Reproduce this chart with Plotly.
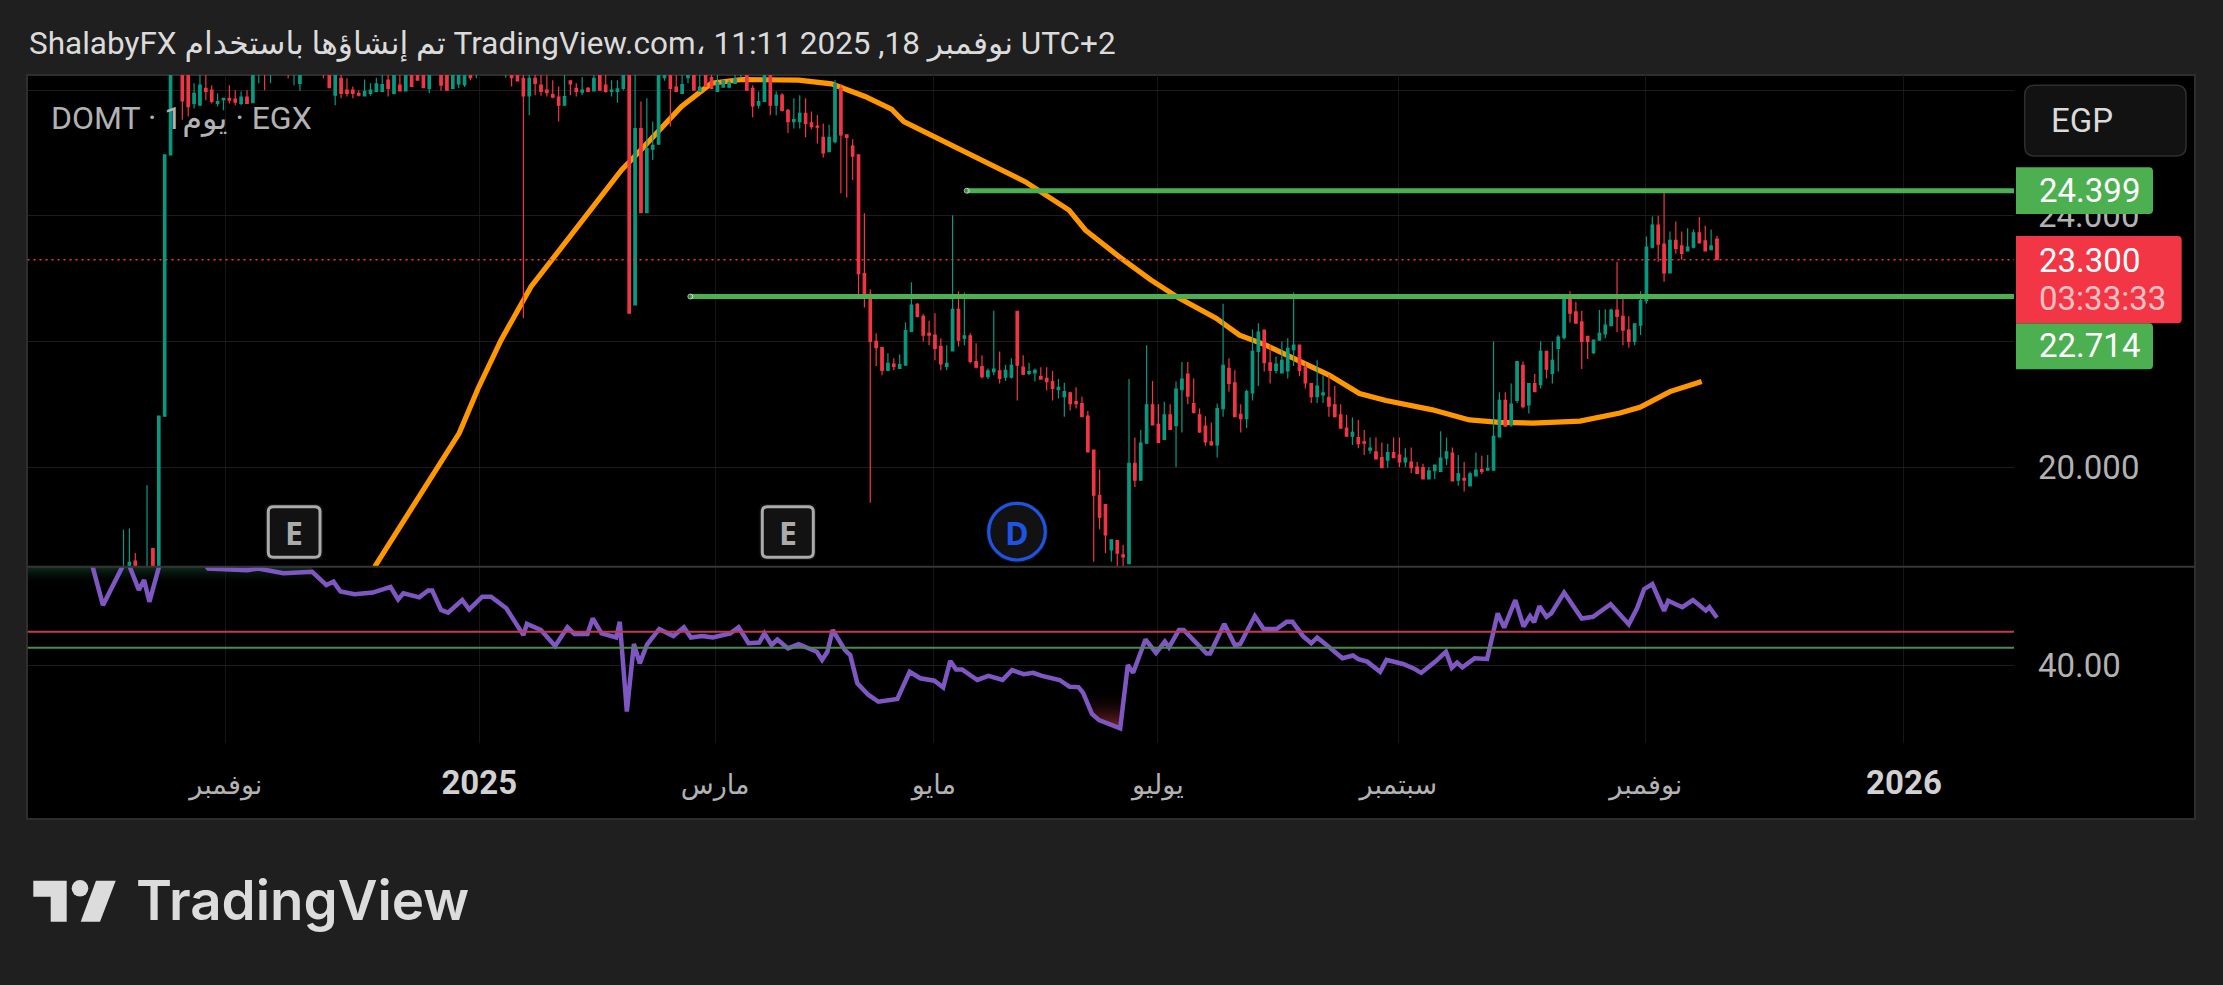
import plotly.graph_objects as go

W, H = 2223, 985

# daily candles DOMT, oldest first (last candle = bar 0)
bar_open = [
    18.2,18.3,18.5,18.3,18.25,18.7,18.35,20.81,24.97,26.5,
    26.8,26.3,25.79,25.76,26.03,26.0,25.79,25.85,25.87,25.86,
    25.79,25.89,25.8,26.3,26.35,26.3,26.4,26.45,26.4,26.25,
    26.11,26.4,26.5,26.6,26.5,26.4,25.92,26.19,26.0,26.0,
    25.95,25.91,25.95,25.98,25.98,26.16,25.95,26.08,25.99,26.3,
    26.3,26.3,26.03,26.3,26.3,26.3,26.03,26.1,26.09,26.4,
    26.25,26.5,26.6,26.7,26.6,26.3,26.4,26.3,26.19,25.91,
    26.19,26.08,26.0,25.93,25.89,25.76,26.15,26.03,25.97,26.03,
    25.99,26.3,
    26.08,25.98,25.98,26.03,26.4,22.58,25.39,24.05,25.06,25.14,
    26.2,26.4,26.05,25.95,26.2,26.4,25.98,26.4,26.2,25.98,
    26.05,26.05,26.11,26.25,26.4,26.03,25.76,25.82,26.4,25.76,
    25.92,25.68,25.5,25.5,25.63,25.48,25.43,25.25,25.02,25.18,
    26.03,25.29,25.11,24.97,23.08,22.75,22.0,21.9,21.54,21.64,
    21.57,21.62,22.16,22.59,22.4,22.13,22.1,21.92,21.6,21.85,
    22.51,22.05,22.09,21.68,21.6,21.44,21.52,21.53,21.43,21.43,
    22.48,21.59,21.49,21.5,21.44,21.41,21.36,21.23,21.12,21.18,
    21.04,21.01,20.81,20.27,19.55,19.4,18.68,18.83,
    18.6,18.46,20.06,19.79,20.38,20.99,20.68,20.44,20.83,20.66,
    21.23,21.48,21.01,20.83,20.65,20.4,20.35,20.93,21.57,21.34,
    20.84,20.77,21.18,21.84,22.18,21.66,21.54,21.5,21.53,21.87,
    21.94,21.59,21.33,21.12,21.15,21.11,20.99,20.83,20.62,20.49,
    20.47,20.4,20.27,20.24,20.15,20.11,20.23,20.19,20.08,20.08,
    20.0,19.99,19.81,19.94,19.93,20.14,20.22,19.79,19.82,19.7,
    19.86,19.96,19.95,19.95,20.48,21.06,20.67,21.06,21.62,20.99,
    21.33,21.31,21.84,21.49,21.89,22.06,22.74,22.47,22.31,22.08,
    21.82,22.02,22.12,22.25,22.5,
    22.4,22.18,22.0,22.26,22.65,23.5,23.85,23.55,23.09,23.61,
    23.52,23.44,23.5,23.73,23.6,23.46,23.63,
]
bar_high = [
    19.0,19.02,18.63,18.35,19.71,18.7,20.81,24.97,26.6,27.0,
    26.9,26.4,26.11,26.3,26.3,26.08,25.95,25.88,26.08,26.0,
    25.98,26.0,26.4,26.7,26.5,26.5,26.6,26.7,26.5,26.5,
    26.4,26.7,26.8,26.8,26.6,26.5,26.4,26.3,26.19,26.06,
    26.0,26.17,26.11,26.2,26.3,26.3,26.4,26.3,26.4,26.4,
    26.4,26.4,26.4,26.5,26.4,26.4,26.4,26.4,26.4,26.5,
    26.5,26.7,26.8,26.9,26.8,26.5,26.5,26.4,26.3,26.3,
    26.4,26.3,26.24,26.16,26.06,26.3,26.16,26.11,26.21,26.05,
    26.3,26.4,
    26.3,26.16,26.16,26.4,26.5,26.4,25.82,25.87,25.5,26.4,
    26.5,26.5,26.4,26.4,26.5,26.5,26.4,26.5,26.3,26.3,
    26.17,26.16,26.3,26.4,26.5,26.08,25.98,26.4,26.5,25.98,
    25.95,25.7,25.87,25.92,25.87,25.66,25.6,25.47,25.45,26.16,
    26.1,25.29,25.22,24.97,24.04,22.83,22.13,21.9,21.81,21.73,
    21.79,22.3,22.94,22.61,22.44,22.33,22.45,22.05,21.94,24.01,
    22.8,22.78,22.13,21.97,21.78,21.57,22.49,21.84,21.63,21.73,
    22.48,21.78,21.66,21.57,21.59,21.59,21.53,21.4,21.34,21.2,
    21.27,21.12,20.89,20.27,19.96,19.4,18.84,18.84,
    18.76,21.4,20.47,20.59,21.94,21.37,21.0,21.04,21.0,21.36,
    21.67,21.67,21.41,20.93,20.81,20.71,21.01,22.6,21.73,21.54,
    21.0,21.23,22.19,22.29,22.18,21.94,21.76,22.0,22.05,22.78,
    21.94,21.66,21.33,21.7,21.46,21.46,21.29,21.0,20.83,20.79,
    20.75,20.59,20.47,20.47,20.39,20.37,20.47,20.47,20.3,20.31,
    20.08,20.05,20.0,20.03,20.57,20.47,20.31,20.19,20.08,19.93,
    20.23,20.18,20.19,22.0,21.19,21.19,21.33,21.68,21.68,21.33,
    21.48,22.0,21.84,22.0,22.1,22.74,22.8,22.63,22.49,22.08,
    22.02,22.5,22.51,22.52,23.27,
    22.73,22.4,22.28,22.8,23.67,23.99,24.0,24.41,23.75,23.91,
    23.75,23.8,23.78,23.98,23.84,23.78,23.68,
]
bar_low = [
    18.1,18.25,18.3,18.2,18.2,18.3,18.35,20.81,24.97,26.4,
    25.53,25.58,25.71,25.76,25.84,25.79,25.74,25.68,25.79,25.76,
    25.76,25.79,25.8,26.11,26.0,26.11,26.3,26.3,26.19,26.08,
    25.99,26.3,26.4,26.4,26.19,26.04,25.76,25.87,25.9,25.87,
    25.9,25.9,25.91,25.98,25.98,25.9,25.93,25.99,25.99,26.05,
    26.15,26.04,25.95,26.25,25.99,26.0,26.03,26.03,26.05,26.16,
    26.19,26.4,26.45,26.5,26.4,26.2,26.06,26.14,22.37,25.6,
    25.92,25.91,25.9,25.87,25.5,25.76,25.92,25.9,25.92,25.98,
    25.99,26.0,
    25.96,25.9,25.8,26.0,22.45,22.58,24.05,24.05,24.89,25.13,
    26.15,25.42,25.97,25.95,26.11,26.0,25.98,26.06,26.03,25.98,
    26.05,26.03,26.11,26.2,26.0,25.57,25.71,25.82,25.6,25.6,
    25.66,25.32,25.39,25.39,25.25,25.38,25.15,24.93,25.02,25.15,
    24.36,24.29,24.57,22.69,22.54,19.43,21.61,21.46,21.54,21.54,
    21.57,21.62,22.16,22.38,22.0,21.94,21.7,21.54,21.54,21.85,
    21.92,21.94,21.65,21.57,21.41,21.4,21.46,21.33,21.37,21.41,
    21.06,21.46,21.46,21.36,21.39,21.22,21.06,21.09,20.8,20.9,
    20.93,20.8,20.24,18.49,19.01,18.63,18.49,18.42,
    18.42,18.46,19.68,19.79,20.38,20.66,20.39,20.44,20.59,20.0,
    20.55,21.0,20.85,20.54,20.34,20.34,20.15,20.8,21.2,20.8,
    20.55,20.62,21.06,21.29,21.52,21.33,21.49,21.5,21.41,21.61,
    21.45,21.25,21.02,21.02,21.02,20.8,20.79,20.62,20.49,20.35,
    20.3,20.19,20.21,20.13,19.99,19.99,20.15,20.0,20.0,19.9,
    19.89,19.81,19.81,19.81,19.93,20.03,19.78,19.7,19.61,19.7,
    19.86,19.89,19.95,19.95,20.48,20.64,20.64,21.02,20.93,20.85,
    21.2,21.25,21.41,21.33,21.52,22.03,22.3,22.29,21.56,21.72,
    21.8,22.02,22.05,22.24,22.15,
    21.94,21.9,21.94,22.1,22.6,23.48,23.27,22.95,23.09,23.4,
    23.3,23.44,23.48,23.57,23.43,23.46,23.3,
]
bar_close = [
    18.3,18.48,18.35,18.25,18.35,18.35,20.81,24.97,26.5,26.8,
    25.83,25.74,25.95,26.08,25.98,25.82,25.82,25.87,25.84,25.81,
    25.89,25.79,26.3,26.5,26.25,26.4,26.45,26.5,26.25,26.4,
    26.35,26.5,26.6,26.5,26.3,26.04,26.4,25.95,25.95,25.95,
    25.92,25.98,26.0,26.1,26.09,26.03,26.3,25.99,26.3,26.06,
    26.16,26.04,26.3,26.4,26.08,26.0,26.3,26.25,26.3,26.2,
    26.4,26.6,26.7,26.6,26.5,26.4,26.2,26.15,25.91,26.19,
    26.11,25.98,25.96,25.89,25.76,25.9,26.1,25.98,26.0,25.98,
    26.19,26.0,
    25.98,26.0,26.02,26.3,22.45,25.39,24.05,25.07,25.12,26.3,
    26.4,26.03,25.98,26.09,26.4,26.0,26.05,26.06,26.03,26.12,
    26.15,26.12,26.18,26.3,26.0,25.75,25.82,26.3,25.76,25.92,
    25.68,25.5,25.53,25.63,25.47,25.42,25.41,25.0,25.25,26.1,
    25.29,25.25,24.95,23.08,22.7,22.0,21.9,21.54,21.65,21.6,
    21.63,22.17,22.58,22.4,22.1,22.1,21.89,21.64,21.65,22.51,
    22.02,22.09,21.68,21.59,21.44,21.53,21.56,21.41,21.54,21.62,
    21.62,21.48,21.52,21.54,21.4,21.36,21.25,21.27,21.2,21.01,
    21.01,20.8,20.24,19.55,19.2,18.92,18.84,18.63,
    18.57,20.06,19.79,20.38,20.99,20.67,20.39,20.83,20.6,21.24,
    21.4,21.13,20.87,20.56,20.4,20.35,20.93,21.62,21.33,20.8,
    20.77,21.2,21.84,22.15,21.66,21.54,21.64,21.7,21.89,21.94,
    21.54,21.34,21.12,21.29,21.18,20.97,20.8,20.62,20.49,20.55,
    20.37,20.38,20.3,20.13,19.99,20.23,20.15,20.08,20.14,19.99,
    19.9,19.81,19.94,20.03,20.14,20.24,19.78,19.89,19.79,19.89,
    19.95,19.93,19.98,20.49,21.06,20.65,21.0,21.68,20.96,21.33,
    21.2,21.84,21.56,21.7,22.07,22.74,22.45,22.29,22.0,22.0,
    22.02,22.13,22.26,22.5,22.4,
    22.18,22.0,22.28,22.65,23.5,23.85,23.55,23.09,23.61,23.48,
    23.4,23.5,23.73,23.57,23.44,23.52,23.3,
]

# long moving average, read at its bends
ma_bar = [-228.3,-213.9,-210.7,-206.8,-201.7,-197.7,-190.3,-186.3,-183,-176.1,-171,-165.9,-156.2,
          -150.6,-144.9,-140.4,-138.3,-125,-117.6,-110.2,-107.4,-101.7,-96.3,-91.5,-85.2,-81.2,-76.7,
          -65.9,-60.8,-56.3,-48.4,-42.1,-37,-31.3,-23.3,-16.5,-13.1,-8,-2.6]
ma_val = [18.41,20.54,21.25,22.02,22.87,23.35,24.25,24.73,25.05,25.74,26.11,26.17,26.16,
          26.10,25.90,25.70,25.50,24.89,24.54,24.09,23.77,23.35,22.98,22.69,22.37,22.10,21.94,
          21.46,21.17,21.06,20.91,20.75,20.71,20.70,20.73,20.86,20.95,21.20,21.36]

# RSI pane
rsi_bar = [-276.7,-274.5,-271.2,-270.6,-268.4,-267.5,-266.6,-265.1,-264.5,-257.2,-256.6,-249.9,-248.1,-243.8,
           -238.9,-236.5,-235.3,-234.1,-231.7,-228.6,-225.6,-224.3,-223.4,-220.7,-219.2,-218.5,-217,-215.8,
           -213.4,-212.2,-210,-208.5,-205.9,-203,-202.4,-200,-197.6,-195.5,-194.3,-192.1,-191.2,-189.7,-187.2,
           -186.6,-185.4,-184.2,-183.2,-182,-179.9,-177.5,-175.7,-174.5,-172.6,-170.8,-167.8,-166.4,-164.7,
           -162.9,-162,-160.8,-159.8,-158,-156.2,-153.1,-152.2,-151.3,-150.4,-148.3,-147.4,-146.2,-144.3,
           -142.6,-139.4,-137.3,-135.5,-133.1,-131.6,-130.4,-129.4,-128.4,-125.8,-123.9,-121.5,-119.9,-117.9,
           -116.3,-114.8,-111.8,-110.1,-108.6,-107.8,-106.3,-105.1,-101.5,-100.2,-99.3,-97.2,-95.4,-93.9,-93.2,
           -91.5,-90.7,
           -86.8,-86.2,-83.8,-82,-81.1,-78.6,-77.1,-74.9,-73.2,-72.2,-70.4,-69,-68,-66.2,-63.7,-61.9,-61,
           -59.5,-57.3,-56.2,-53.4,-51.6,-50.3,-47.9,-46.1,-45.1,-44.2,-43.3,-41.2,-39.1,-37.3,-36.2,-34.3,
           -32.9,-31.8,-31.1,-30.2,-29,-28.2,-26,-24.8,-23,-21.1,-18.1,-15,-13.6,-12.4,-11,-9,-8.3,-5.9,-4.1,
           -1.9,-1.3,0]
rsi_val = [72,57.8,69.1,72,62.3,65.2,58.8,68.6,72,70,68.6,68.1,68.6,67.2,
           67.6,63.7,64.7,61.8,61.0,61.5,63.2,59.5,61.3,60.1,62.1,62.1,56.4,55.6,
           59.3,56.6,60.3,60.3,56.9,49.0,52.3,50.5,45.8,51.3,49.3,49.3,53.9,49.5,48.3,
           52.9,26.5,46.4,40.7,46.1,50.8,48.7,51.3,48.3,48.7,48.3,49.5,51.3,46.6,
           46.8,49.5,46.1,47.7,45.1,46.3,44.1,41.7,44.1,50.5,44.6,43.1,34.8,31.4,
           29.4,30.2,38.2,36.3,35.6,33.6,41.4,38.9,38.9,35.8,37.0,35.8,38.7,37.5,
           37.9,37.0,35.8,33.8,33.7,32.0,25.8,24.0,21.6,40.2,37.9,47.7,43.8,47.1,45.4,
           50.5,50.5,
           43.6,43.6,52.3,46.1,46.3,54.6,50.8,50.8,52.9,52.9,48.7,46.6,48.3,45.8,42.2,43.0,41.9,
           41.2,38.2,41.7,40.5,39.2,37.9,41.2,44.1,39.4,40.9,39.5,42.2,42.0,55.4,51.2,59.3,
           51.5,54.6,52.8,57.5,54.4,55.4,61.5,58.3,53.9,54.4,58.1,52.2,56.9,62.5,64.0,56.1,59.1,57.2,59.3,
           56.2,57.2,54.1]
rsi_upper = 50.0
rsi_lower = 45.3
rsi_low_fill_bar = [-107.8,-106.3,-105.1,-101.5,-101.2,-107.8]
rsi_low_fill_val = [32.9,25.8,24.0,21.6,32.9,32.9]

# levels and axis labels
current_price = 23.3
level_high = 24.399
level_high_start = -127.6
level_low = 22.714
level_low_start = -174.6
price_ticks = [20, 22, 24, 26]
price_labels = ["20.000", "", "24.000", ""]
rsi_ticks = [40]
rsi_labels = ["40.00"]
time_ticks = [-253.6, -210.5, -170.4, -133.2, -95.1, -54.2, -12.1, 31.8]
time_labels = ["نوفمبر", "2025", "مارس", "مايو", "يوليو", "سبتمبر", "نوفمبر", "2026"]

BAR_PX = 5.88
LAST_BAR_PX = 1717
PLOT_L, PLOT_R = 27.5, 2014
PLOT_T, PANE_SPLIT, PLOT_B = 75, 566.7, 742.7
FRAME_R, FRAME_B = 2195, 819
UP, DOWN = "#089981", "#f23645"
TEXT_GREY = "#b2b2b2"
LOGO = "#dcdcdc"
FONT = "Roboto, 'DejaVu Sans', sans-serif"


def px(x):
    return x / W


def py(y):
    return 1 - y / H


def rounded(x0, y0, x1, y1, r_left, r_right):
    # closed path in paper coordinates, corners in pixels
    p = lambda x, y: f"{px(x):.5f},{py(y):.5f}"
    return (f"M{p(x0 + r_left, y0)} L{p(x1 - r_right, y0)} Q{p(x1, y0)} {p(x1, y0 + r_right)} "
            f"L{p(x1, y1 - r_right)} Q{p(x1, y1)} {p(x1 - r_right, y1)} L{p(x0 + r_left, y1)} "
            f"Q{p(x0, y1)} {p(x0, y1 - r_left)} L{p(x0, y0 + r_left)} Q{p(x0, y0)} {p(x0 + r_left, y0)} Z")


def box(x0, y0, x1, y1, fill, r_left=0, r_right=4, line=None, line_w=0):
    return dict(type="path", xref="paper", yref="paper", path=rounded(x0, y0, x1, y1, r_left, r_right),
                fillcolor=fill, line=dict(color=line or fill, width=line_w), layer="above")


def polygon(points, fill):
    p = [f"{px(a):.5f},{py(b):.5f}" for a, b in points]
    return dict(type="path", xref="paper", yref="paper", layer="above", fillcolor=fill, line=dict(width=0),
                path="M" + " L".join(p) + " Z")


def label(x, y, text, size, color, family=FONT, xanchor="left", weight=None):
    return dict(xref="paper", yref="paper", x=px(x), y=py(y), text=text, showarrow=False, xanchor=xanchor,
                yanchor="middle", borderpad=0, font=dict(family=family, size=size, color=color, weight=weight))


bar_x = list(range(-(len(bar_close) - 1), 1))
x_left = (PLOT_L - LAST_BAR_PX) / BAR_PX
x_right = (PLOT_R - LAST_BAR_PX) / BAR_PX

y_top = 20 + (467 - PLOT_T) / 62.8
y_bottom = 20 + (467 - PANE_SPLIT) / 62.8
rsi_top = 40 + (665.7 - PANE_SPLIT) / 3.4
rsi_bottom = 40 + (665.7 - PLOT_B) / 3.4

fig = go.Figure()

# moving average sits under the candles, so candles go on an overlaid axis
fig.add_trace(go.Scatter(x=ma_bar, y=ma_val, mode="lines", line=dict(color="#ff9800", width=5.2), yaxis="y"))

fig.add_trace(go.Candlestick(
    x=bar_x, open=bar_open, high=bar_high, low=bar_low, close=bar_close, yaxis="y3",
    increasing=dict(line=dict(color=UP, width=1.2), fillcolor=UP),
    decreasing=dict(line=dict(color=DOWN, width=1.2), fillcolor=DOWN),
    whiskerwidth=0,
))

fig.add_trace(go.Scatter(x=[x_left, x_right], y=[current_price, current_price], mode="lines", yaxis="y3",
                         line=dict(color=DOWN, width=1.5, dash="2px,4px")))
# first point gets a dot for the round line end
fig.add_trace(go.Scatter(x=[level_high_start, x_right], y=[level_high, level_high], mode="lines+markers", yaxis="y3",
                         line=dict(color="#4caf50", width=5), marker=dict(color="#4caf50", size=[5, 0])))
fig.add_trace(go.Scatter(x=[level_low_start, x_right], y=[level_low, level_low], mode="lines+markers", yaxis="y3",
                         line=dict(color="#4caf50", width=5), marker=dict(color="#4caf50", size=[5, 0])))

# RSI pane
fig.add_trace(go.Scatter(x=[x_left, -238.9, -238.9, x_left, x_left], y=[rsi_top, rsi_top, 63.7, 63.7, rsi_top],
                         mode="none", fill="toself", yaxis="y2",
                         fillgradient=dict(type="vertical", colorscale=[[0, "rgba(0,0,0,0)"], [1, "rgba(22,72,44,0.65)"]])))
fig.add_trace(go.Scatter(x=rsi_low_fill_bar, y=rsi_low_fill_val, mode="none", fill="toself", yaxis="y2",
                         fillgradient=dict(type="vertical", colorscale=[[0, "rgb(125,36,40)"], [1, "rgba(0,0,0,0)"]])))
fig.add_trace(go.Scatter(x=rsi_bar, y=rsi_val, mode="lines", line=dict(color="#7e57c2", width=4.5), yaxis="y2"))
fig.add_trace(go.Scatter(x=[x_left, x_right], y=[rsi_upper, rsi_upper], mode="lines", yaxis="y2",
                         line=dict(color="#c23b50", width=2)))
fig.add_trace(go.Scatter(x=[x_left, x_right], y=[rsi_lower, rsi_lower], mode="lines", yaxis="y2",
                         line=dict(color="#4b8a50", width=2)))

tick_text = []
for t in time_labels:
    if t.isdigit():
        tick_text.append(f'<b><span style="color:#d1d1d1">{t}</span></b>')
    else:
        tick_text.append(f'<span style="font-size:27px">{t}</span>')

shapes = [
    dict(type="rect", xref="paper", yref="paper", x0=px(27), x1=px(FRAME_R), y0=py(75), y1=py(FRAME_B),
         fillcolor="#000000", line=dict(color="#2e2e2e", width=2), layer="below"),
    dict(type="line", xref="paper", yref="paper", x0=px(27), x1=px(FRAME_R), y0=py(PANE_SPLIT), y1=py(PANE_SPLIT),
         line=dict(color="#363636", width=2), layer="above"),
    box(2024.7, 85.3, 2186, 156, "#121212", 10, 10, "#2e2e2e", 1.5),
    box(2016, 167.3, 2153, 214, "#4caf50"),
    box(2016, 323.3, 2153, 369.3, "#4caf50"),
    box(2016, 236, 2181.7, 323.3, "#f23645"),
    box(265.5, 504, 323, 560, "#121212", 7, 7),
    box(268.3, 506.7, 320, 557.3, "#121212", 5, 5, "#ababab", 3),
    box(759.5, 504, 816, 560, "#121212", 7, 7),
    box(762.3, 506.7, 813.3, 557.3, "#121212", 5, 5, "#ababab", 3),
    dict(type="circle", xref="paper", yref="paper", x0=px(986), x1=px(1048), y0=py(501), y1=py(563),
         fillcolor="#121212", line=dict(width=0), layer="above"),
    dict(type="circle", xref="paper", yref="paper", x0=px(988.7), x1=px(1045.3), y0=py(503.4), y1=py(560),
         fillcolor="#121212", line=dict(color="#1e53e5", width=3.2), layer="above"),
    # TradingView mark
    polygon([(33.3, 880.7), (66.7, 880.7), (66.7, 921.7), (50.7, 921.7), (50.7, 896.7), (33.3, 896.7)], LOGO),
    dict(type="circle", xref="paper", yref="paper", layer="above", fillcolor=LOGO, line=dict(width=0),
         x0=px(71.7), x1=px(88.3), y0=py(880), y1=py(896.6)),
    polygon([(96, 880.7), (115.7, 880.7), (100, 921.7), (80.7, 921.7)], LOGO),
]

annotations = [
    label(28, 43, "ShalabyFX تم إنشاؤها باستخدام TradingView.com، 11:11 2025 ,18 نوفمبر UTC+2", 31.5, "#dbdbdb"),
    label(50, 118, "DOMT · 1يوم · EGX", 32, TEXT_GREY),
    label(2050, 120, "EGP", 33, "#dbdbdb"),
    label(2038, 190.7, "24.399", 33, "#ffffff"),
    label(2038, 260, "23.300", 33, "#ffffff"),
    label(2038, 299, "03:33:33", 33, "rgba(255,255,255,0.7)"),
    label(2038, 345, "22.714", 33, "#ffffff"),
    label(294, 532, "E", 32, "#ababab", "'Open Sans'", "center", 700),
    label(788, 532, "E", 32, "#ababab", "'Open Sans'", "center", 700),
    label(1017, 532, "D", 32, "#1e53e5", "'Open Sans'", "center", 700),
    label(135, 900, "TradingView", 54.7, LOGO, "Inter", weight=600),
]

fig.update_layout(
    width=W, height=H, margin=dict(l=0, r=0, t=0, b=0, pad=0),
    paper_bgcolor="#1f1f1f", plot_bgcolor="#000000", showlegend=False,
    font=dict(family=FONT, color=TEXT_GREY, size=33),
    boxgap=0.4,
    xaxis=dict(domain=[px(PLOT_L), px(PLOT_R)], range=[x_left, x_right], anchor="y2", rangeslider=dict(visible=False),
               tickmode="array", tickvals=time_ticks, ticktext=tick_text, ticks="", showline=False, zeroline=False,
               showgrid=True, gridcolor="#161616", gridwidth=1, ticklabelstandoff=17, tickangle=0),
    yaxis=dict(domain=[py(PANE_SPLIT), py(PLOT_T)], range=[y_bottom, y_top], side="right", anchor="x",
               tickmode="array", tickvals=price_ticks, ticktext=price_labels, ticks="", showline=False, zeroline=False,
               gridcolor="#1c1c1c", gridwidth=1, ticklabelstandoff=23),
    yaxis3=dict(domain=[py(PANE_SPLIT), py(PLOT_T)], range=[y_bottom, y_top], overlaying="y", side="right",
                visible=False, showgrid=False),
    yaxis2=dict(domain=[py(PLOT_B), py(PANE_SPLIT)], range=[rsi_bottom, rsi_top], side="right", anchor="x",
                tickmode="array", tickvals=rsi_ticks, ticktext=rsi_labels, ticks="", showline=False, zeroline=False,
                gridcolor="#1c1c1c", gridwidth=1, ticklabelstandoff=23),
    shapes=shapes, annotations=annotations,
)

fig.write_html("out.html", config=dict(displayModeBar=False), post_script="document.body.style.margin='0';")
